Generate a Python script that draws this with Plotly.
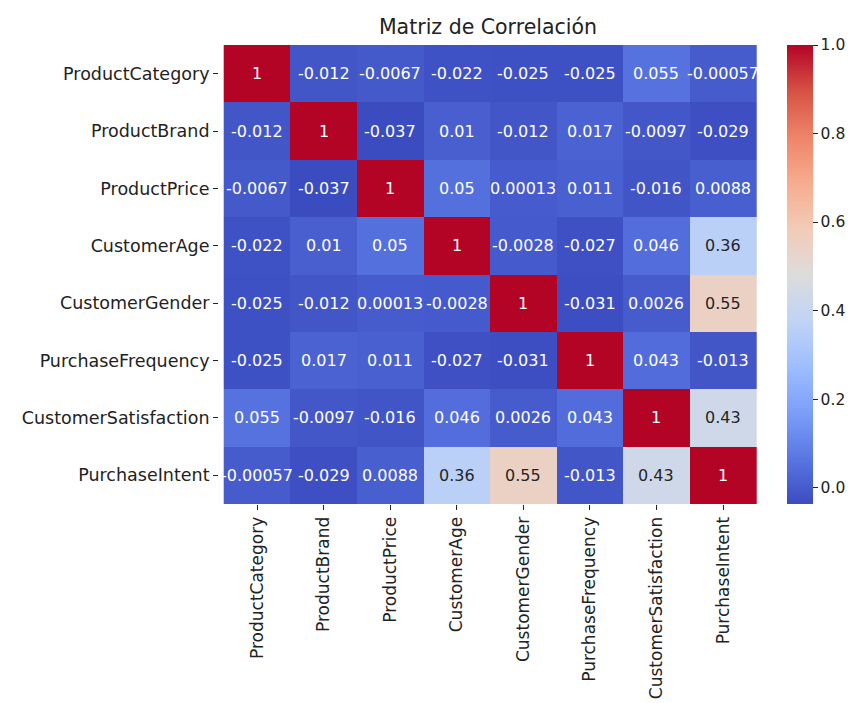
import plotly.graph_objects as go

labels = ["ProductCategory", "ProductBrand", "ProductPrice", "CustomerAge",
          "CustomerGender", "PurchaseFrequency", "CustomerSatisfaction", "PurchaseIntent"]

row_productcategory = [1, -0.012, -0.0067, -0.022, -0.025, -0.025, 0.055, -0.00057]
row_productbrand = [-0.012, 1, -0.037, 0.01, -0.012, 0.017, -0.0097, -0.029]
row_productprice = [-0.0067, -0.037, 1, 0.05, 0.00013, 0.011, -0.016, 0.0088]
row_customerage = [-0.022, 0.01, 0.05, 1, -0.0028, -0.027, 0.046, 0.36]
row_customergender = [-0.025, -0.012, 0.00013, -0.0028, 1, -0.031, 0.0026, 0.55]
row_purchasefrequency = [-0.025, 0.017, 0.011, -0.027, -0.031, 1, 0.043, -0.013]
row_customersatisfaction = [0.055, -0.0097, -0.016, 0.046, 0.0026, 0.043, 1, 0.43]
row_purchaseintent = [-0.00057, -0.029, 0.0088, 0.36, 0.55, -0.013, 0.43, 1]

z = [row_productcategory, row_productbrand, row_productprice, row_customerage,
     row_customergender, row_purchasefrequency, row_customersatisfaction, row_purchaseintent]

coolwarm = [
    [0.0, "#3b4cc0"], [0.1, "#5977e3"], [0.2, "#7b9ff9"], [0.3, "#9ebeff"],
    [0.4, "#c0d4f5"], [0.5, "#dddcdc"], [0.6, "#f2cbb7"], [0.7, "#f7ac8e"],
    [0.8, "#ee8468"], [0.9, "#d65244"], [1.0, "#b40426"],
]

zmin = min(min(r) for r in z)
zmax = 1.0

fig = go.Figure(go.Heatmap(
    z=z, x=labels, y=labels, colorscale=coolwarm, zmin=zmin, zmax=zmax,
    xgap=0, ygap=0, hoverongaps=False,
    colorbar=dict(
        x=787 / 859, xanchor="left", xref="container", xpad=0, ypad=0,
        y=0.5, yanchor="middle", yref="paper",
        len=459, lenmode="pixels",
        thickness=26, outlinewidth=0,
        tickvals=[0, 0.2, 0.4, 0.6, 0.8, 1.0], tickformat=".1f",
        ticks="outside", ticklen=5, tickcolor="#222",
        tickfont=dict(family="DejaVu Sans", size=15.5, color="#222"),
    ),
))

annotations = []
for i, row in enumerate(z):
    for j, v in enumerate(row):
        norm = (v - zmin) / (zmax - zmin)
        color = "#262626" if 0.25 < norm < 0.75 else "white"
        annotations.append(dict(
            x=labels[j], y=labels[i], text=format(v, ".2g"), showarrow=False,
            font=dict(family="DejaVu Sans", size=16, color=color),
        ))

fig.update_layout(
    width=859, height=703,
    margin=dict(l=219, r=98, t=45, b=199, autoexpand=False),
    paper_bgcolor="white", plot_bgcolor="white",
    annotations=annotations,
    title=dict(text="Matriz de Correlación", x=488 / 859, xanchor="center",
               y=1 - 27 / 703, yanchor="middle",
               font=dict(family="DejaVu Sans", size=20.5, color="#222")),
    xaxis=dict(tickangle=-90, ticks="outside", ticklen=5, tickcolor="#222",
               tickfont=dict(family="DejaVu Sans", size=17, color="#222"),
               showgrid=False, zeroline=False, automargin=False),
    yaxis=dict(autorange="reversed", ticks="outside", ticklen=5, tickcolor="#222",
               tickfont=dict(family="DejaVu Sans", size=17.5, color="#222"),
               showgrid=False, zeroline=False, automargin=False),
)

fig.write_html("out.html")
